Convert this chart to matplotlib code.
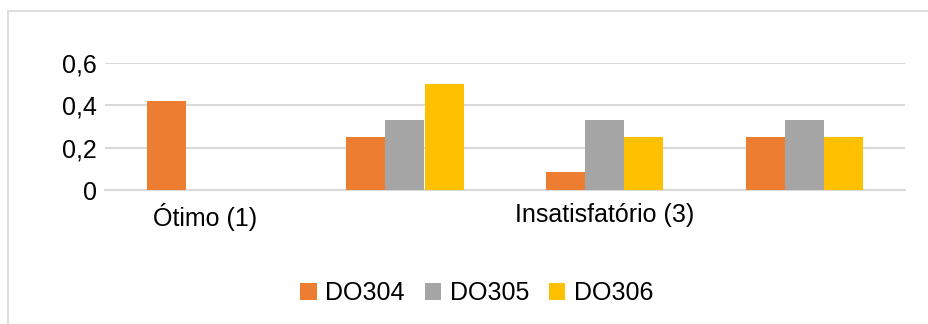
import matplotlib
matplotlib.use("Agg")
import matplotlib.pyplot as plt
import matplotlib.patches as mpatches
import numpy as np

plt.rcParams['font.family'] = ['Liberation Sans', 'DejaVu Sans']

categories = ["Ótimo (1)", "", "Insatisfatório (3)", ""]
series_names = ["DO304", "DO305", "DO306"]
do304 = [0.42, 0.25, 0.083, 0.25]
do305 = [0.0, 0.333, 0.333, 0.333]
do306 = [0.0, 0.5, 0.25, 0.25]
colors = ["#ED7D31", "#A5A5A5", "#FFC000"]
yticks = [0, 0.2, 0.4, 0.6]
yticklabels = ["0", "0,2", "0,4", "0,6"]

fig = plt.figure(figsize=(9.29, 3.24), dpi=100)
fig.patch.set_facecolor("white")

# outer frame
fig.patches.append(mpatches.Rectangle((8/929, -0.2), 1.2, 1 - 11/324 + 0.2,
                                      transform=fig.transFigure, fill=False,
                                      edgecolor="#d9d9d9", linewidth=1.2))

ax = fig.add_axes([105/929, 1 - 190/324, 800/929, 127/324])
x = np.arange(len(categories))
w = 0.195
for i, (vals, name) in enumerate(zip([do304, do305, do306], series_names)):
    ax.bar(x + (i - 1) * w, vals, width=w, color=colors[i], label=name, zorder=3)

ax.set_xlim(-0.5, 3.5)
ax.set_ylim(0, 0.6)
ax.set_yticks(yticks)
ax.set_yticklabels(yticklabels, fontsize=18)
ax.set_xticks(x)
ax.set_xticklabels(categories, fontsize=18)
ax.tick_params(axis="both", length=0)
ax.tick_params(axis="x", pad=9)
ax.tick_params(axis="y", pad=6)
ax.grid(axis="y", color="#d9d9d9", linewidth=1.5, zorder=0)
for s in ["top", "right", "left"]:
    ax.spines[s].set_visible(False)
ax.spines["bottom"].set_color("#d9d9d9")
ax.spines["bottom"].set_linewidth(1.5)

fig.legend(loc="center", bbox_to_anchor=(477/929, 1 - 293/324), ncol=3,
           frameon=False, fontsize=18, handlelength=0.65, handleheight=0.65,
           handletextpad=0.35, columnspacing=0.8)

fig.savefig("out.png", dpi=100)
